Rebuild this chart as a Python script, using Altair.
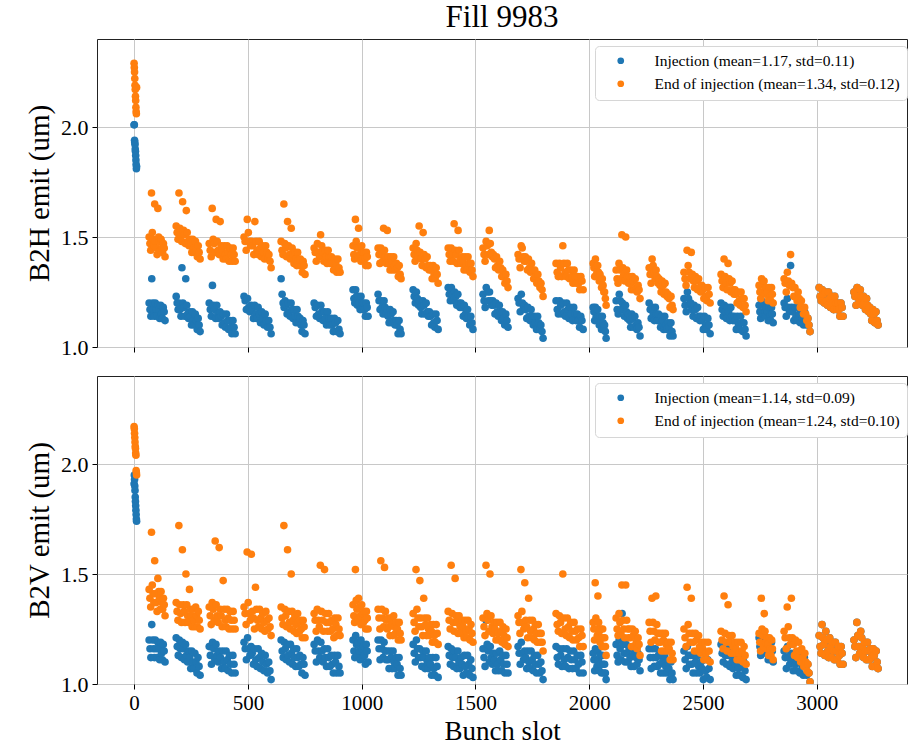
import altair as alt
import numpy as np
import pandas as pd

BLUE = "#1f77b4"
ORANGE = "#ff7f0e"
FONT = "Times New Roman, Liberation Serif, DejaVu Serif, serif"

X_TICKS = [0, 500, 1000, 1500, 2000, 2500, 3000]
Y_TICKS = [1.0, 1.5, 2.0]

# first short batch (bunch slots 0..11)
PILOT_SLOTS = list(range(12))
# trains: first and last bunch slot of each train
TRAIN_START = [66, 185, 330, 483, 646, 791, 962, 1072, 1226, 1380, 1533,
               1687, 1854, 2017, 2118, 2263, 2416, 2579, 2746, 2856, 3010, 3163]
TRAIN_END = [136, 290, 444, 602, 751, 905, 1028, 1173, 1336, 1489, 1643,
             1797, 1973, 2074, 2223, 2368, 2531, 2689, 2808, 2970, 3115, 3269]

# ---- B2H (values in hundredths of um, bunch by bunch along each train) ----
H_PILOT_INJ = [201, 201, 194, 193, 192, 190, 189, 187, 185, 183, 181, 182]
H_PILOT_END = [229, 227, 225, 222, 219, 217, 214, 212, 209, 207, 206, 218]
H_END = [
    [150,147,144, 170,152,149,146, 165,148,145,142, 163,150,148,144, 149,145,143, 147,145,141],
    [155,152,149, 170,154,151,148, 166,153,151,147, 162,152,148,146, 149,147,143, 149,145,143, 148,145,141, 146,143,140],
    [147,144,141, 163,149,147,143, 158,148,144,142, 157,146,144,140, 146,142,140, 146,143,139, 145,142,139, 145,142,139],
    [150,148,144, 158,152,148,146, 148,146,142, 157,148,144,142, 148,145,141, 146,143,140, 146,143,140, 142,139,136],
    [148,144,142, 165,147,145,141, 157,146,142,140, 154,145,142,138, 143,140,137, 143,140,137, 140,137,134, 139,137,133],
    [145,143,139, 147,143,141, 151,146,143,139, 144,141,138, 144,141,138, 141,138,135, 140,138,134, 140,136,134],
    [146,142,140, 158,148,145,141, 154,145,142,139, 146,143,140, 143,140,137, 143,141,137],
    [145,142,138, 145,142,139, 154,144,141,138, 153,141,138,135, 141,139,135, 141,137,135, 138,136,132, 137,133,131],
    [145,142,139, 147,144,141, 155,143,140,137, 152,142,140,136, 141,137,135, 137,135,131, 137,133,131, 136,133,129],
    [145,142,139, 145,142,139, 156,144,142,138, 153,144,140,138, 141,139,135, 141,137,135, 141,138,134, 138,135,132],
    [145,142,139, 148,146,142, 153,147,143,141, 142,140,136, 141,137,135, 139,136,132, 135,132,129, 133,130,127],
    [142,140,136, 146,145,141,139, 141,139,135, 140,136,134, 138,135,131, 135,132,129, 133,130,127, 129,126,123],
    [138,134,132, 138,136,132, 146,138,134,132, 138,135,131, 135,132,129, 135,132,129, 132,129,126, 132,130,126],
    [138,136,132, 140,136,134, 137,134,130, 133,130,127, 131,128,125, 125,122,119],
    [135,131,129, 138,135,131, 151,136,133,130, 150,135,132,129, 132,129,126, 132,130,126, 131,127,125, 128,126,122],
    [136,133,129, 140,137,134,131, 135,132,129, 131,128,125, 130,128,124, 129,125,123, 124,122,118, 123,119,117],
    [134,131,128, 144,137,134,131, 143,133,130,127, 132,130,126, 131,127,125, 128,126,122, 127,123,121, 127,124,120],
    [133,130,127, 140,132,129,126, 138,131,129,125, 130,126,124, 126,124,120, 125,121,119, 125,122,118, 122,119,116],
    [128,125,122, 131,129,125, 130,126,124, 127,125,121, 127,123,121, 127,124,120],
    [131,129,125, 134,130,128, 142,129,127,123, 127,123,121, 125,122,118, 121,118,115, 118,115,112, 113,110,107],
    [127,123,121, 126,124,120, 125,121,119, 125,122,118, 123,120,117, 123,120,117, 120,117,114, 120,118,114],
    [125,123,119, 127,123,121, 126,123,119, 123,120,117, 122,119,116, 118,115,112, 117,115,111, 116,112,110],
]
H_INJ = [
    [120,117,114, 131,120,117,114, 120,117,114, 119,117,113, 119,115,113, 118,116,112],
    [123,120,117, 120,117,114, 136,120,118,114, 131,119,115,113, 116,114,110, 116,112,110, 115,112,108, 113,110,107],
    [120,117,114, 128,119,117,113, 119,115,113, 116,114,110, 115,111,109, 115,112,108, 112,109,106, 112,109,106],
    [123,121,117, 122,118,116, 119,117,113, 119,115,113, 118,115,111, 116,113,110, 115,112,109, 112,109,106],
    [131,124,120,118, 121,119,115, 120,116,114, 120,117,113, 117,114,111, 117,114,111, 113,110,107, 112,110,106],
    [120,118,114, 119,115,113, 119,116,112, 116,113,110, 116,113,110, 113,110,107, 113,111,107, 112,108,106],
    [126,122,120, 126,123,119, 123,120,117, 123,120,117, 120,117,114, 120,118,114],
    [124,121,117, 121,118,115, 121,118,115, 117,114,111, 117,115,111, 116,112,110, 112,110,106, 112,108,106],
    [126,123,120, 125,122,119, 121,118,115, 121,119,115, 120,116,114, 116,114,110, 115,111,109, 115,112,108],
    [127,124,121, 127,124,121, 125,123,119, 124,120,118, 120,118,114, 119,115,113, 117,114,110, 114,111,108],
    [124,121,118, 127,125,121, 125,121,119, 121,119,115, 120,116,114, 119,116,112, 116,113,110, 115,112,109],
    [122,120,116, 124,120,118, 119,117,113, 118,114,112, 117,114,110, 114,111,108, 114,111,108, 110,107,104],
    [121,117,115, 121,119,115, 120,116,114, 120,117,113, 118,115,112, 118,115,112, 115,112,109, 114,112,108],
    [118,116,112, 118,114,112, 117,114,110, 114,111,108, 114,111,108, 110,107,104],
    [121,117,115, 124,121,117, 120,117,114, 119,116,113, 115,112,109, 115,113,109, 114,110,108, 111,109,105],
    [120,117,113, 118,115,112, 118,115,112, 115,112,109, 114,112,108, 114,110,108, 111,109,105, 111,107,105],
    [122,119,116, 125,122,119, 120,117,114, 119,117,113, 118,114,112, 114,112,108, 114,110,108, 113,110,106],
    [120,117,114, 119,116,113, 118,116,112, 118,114,112, 114,112,108, 114,110,108, 114,111,107, 111,108,105],
    [119,116,113, 121,119,115, 120,116,114, 118,116,112, 118,114,112, 118,115,111],
    [120,118,114, 122,118,116, 137,118,116,112, 118,114,112, 118,115,111, 116,113,110, 116,113,110, 113,110,107],
    # last two trains: injection readings coincide with end-of-injection readings
    [127,123,121, 126,124,120, 125,121,119, 125,122,118, 123,120,117, 123,120,117, 120,117,114, 120,118,114],
    [125,123,119, 127,123,121, 126,123,119, 123,120,117, 122,119,116, 118,115,112, 117,115,111, 116,112,110],
]

# ---- B2V (values in hundredths of um) ----
V_PILOT_INJ = [191, 195, 193, 190, 188, 185, 183, 181, 179, 177, 175, 174]
V_PILOT_END = [217, 216, 214, 212, 210, 208, 207, 205, 204, 197, 196, 195]
V_END = [
    [143,139,135, 169,145,141,137, 156,141,137,133, 148,142,139,134, 142,137,134, 139,136,131],
    [137,133,129, 172,136,132,128, 161,136,133,128, 150,136,131,128, 143,134,131,126, 134,129,126, 135,131,126, 133,129,125],
    [135,131,127, 137,134,129, 165,136,131,128, 162,134,131,126, 147,134,129,126, 134,130,125, 133,129,125, 133,129,125],
    [135,132,127, 160,137,132,129, 159,133,130,125, 144,134,129,126, 134,130,125, 132,128,124, 133,129,125, 130,126,122],
    [135,130,127, 172,134,131,126, 161,133,128,125, 150,133,129,124, 131,127,123, 132,128,124, 129,125,121, 129,126,121],
    [132,129,124, 134,129,126, 154,133,129,124, 152,132,128,124, 132,128,124, 129,125,121, 130,127,122, 130,125,122],
    [136,131,128, 152,138,134,129, 139,135,131,127, 136,132,128, 133,129,125, 133,130,125],
    [134,130,125, 156,134,130,126, 153,133,129,125, 130,126,122, 130,127,122, 131,126,123, 128,125,120, 128,123,120],
    [132,128,124, 152,134,130,126, 147,130,126,122, 139,130,127,122, 130,125,122, 127,124,119, 127,122,119, 127,123,118],
    [133,129,125, 154,132,128,124, 148,131,128,123, 131,126,123, 129,126,121, 129,124,121, 129,125,120, 127,123,119],
    [130,126,122, 154,132,129,124, 150,131,126,123, 128,125,120, 128,123,120, 128,124,119, 126,122,118, 125,121,117],
    [131,128,123, 152,133,128,125, 146,129,126,121, 139,129,124,121, 129,125,120, 127,123,119, 127,123,119, 123,119,115],
    [132,127,124, 131,128,123, 150,130,125,122, 130,126,121, 128,124,120, 128,124,120, 125,121,117, 125,122,117],
    [128,125,120, 146,130,125,122, 140,128,124,119, 125,121,117, 125,121,117, 121,117,113],
    [130,125,122, 132,128,123, 145,129,125,121, 145,129,125,121, 125,121,117, 125,122,117, 124,119,116, 121,118,113],
    [128,124,119, 139,128,124,120, 140,127,123,119, 123,119,115, 123,120,115, 123,118,115, 119,116,111, 119,114,111],
    [125,121,117, 144,127,123,119, 139,123,119,115, 123,120,115, 122,117,114, 119,116,111, 119,114,111, 119,115,110],
    [124,120,116, 140,123,119,115, 136,122,119,114, 122,117,114, 119,116,111, 119,114,111, 119,115,110, 117,113,109],
    [123,119,115, 139,125,122,117, 132,124,119,116, 121,118,113, 121,116,113, 120,116,111],
    [124,121,116, 135,126,121,118, 139,121,118,113, 120,115,112, 119,115,110, 116,112,108, 114,110,106, 109,105,101],
    [122,117,114, 127,121,118,113, 124,120,115,112, 121,117,112, 119,115,111, 119,115,111, 117,113,109, 117,114,109],
    [120,117,112, 128,122,117,114, 124,121,117,112, 119,115,111, 119,115,111, 116,112,108, 116,113,108, 115,110,107],
]
V_INJ = [
    [120,116,112, 127,120,116,112, 120,116,112, 119,116,111, 119,114,111, 118,115,110],
    [121,117,113, 120,116,112, 119,116,111, 118,113,110, 115,112,107, 115,110,107, 114,110,105, 112,108,104],
    [117,113,109, 119,116,111, 118,113,110, 115,112,107, 115,110,107, 115,111,106, 113,109,105, 113,109,105],
    [119,116,111, 121,116,113, 117,114,109, 116,111,108, 116,112,107, 114,110,106, 113,109,105, 110,106,102],
    [120,115,112, 119,116,111, 118,113,110, 118,114,109, 116,112,108, 116,112,108, 113,109,105, 112,109,104],
    [118,115,110, 120,115,112, 119,115,110, 116,112,108, 116,112,108, 113,109,105, 113,110,105, 113,108,105],
    [120,115,112, 122,118,113, 119,115,111, 120,116,112, 117,113,109, 118,115,110],
    [120,116,111, 120,116,112, 119,115,111, 115,111,107, 115,112,107, 115,110,107, 112,109,104, 112,107,104],
    [118,114,110, 120,116,112, 116,112,108, 115,112,107, 115,110,107, 112,109,104, 112,107,104, 112,108,103],
    [117,113,109, 116,112,108, 115,112,107, 115,110,107, 112,109,104, 113,108,105, 113,109,104, 111,107,103],
    [116,112,108, 129,118,115,110, 117,112,109, 114,111,106, 114,109,106, 115,111,106, 113,109,105, 113,109,105],
    [117,114,109, 119,114,111, 115,112,107, 115,110,107, 115,111,106, 113,109,105, 113,109,105, 110,106,102],
    [117,112,109, 116,113,108, 116,111,108, 116,112,107, 115,111,107, 115,111,107, 113,109,105, 113,110,105],
    [114,111,106, 116,111,108, 115,111,106, 113,109,105, 113,109,105, 109,105,102],
    [118,113,110, 120,116,111, 132,118,114,110, 118,114,110, 116,112,108, 116,113,108, 117,112,109, 114,111,106],
    [116,112,107, 116,112,108, 116,112,108, 113,109,105, 113,110,105, 113,108,105, 110,107,102, 110,105,102],
    [115,111,107, 117,113,109, 113,109,105, 113,110,105, 113,108,105, 110,107,102, 111,106,103, 111,107,102],
    [118,114,110, 117,113,109, 116,113,108, 115,110,107, 112,109,104, 112,107,104, 112,108,103, 110,106,102],
    [121,117,113, 123,120,115, 122,117,114, 119,116,111, 119,114,111, 119,115,110],
    [115,112,107, 117,112,109, 114,111,106, 114,109,106, 114,110,105, 112,108,104, 112,108,104, 109,105,101],
    # last two trains: injection readings coincide with end-of-injection readings
    [122,117,114, 127,121,118,113, 124,120,115,112, 121,117,112, 119,115,111, 119,115,111, 117,113,109, 117,114,109],
    [120,117,112, 128,122,117,114, 124,121,117,112, 119,115,111, 119,115,111, 116,112,108, 116,113,108, 115,110,107],
]

H_LABELS = ["Injection (mean=1.17, std=0.11)", "End of injection (mean=1.34, std=0.12)"]
V_LABELS = ["Injection (mean=1.14, std=0.09)", "End of injection (mean=1.24, std=0.10)"]


def series_rows(pilot, trains, label):
    out = []
    for s, v in zip(PILOT_SLOTS, pilot):
        out.append({"slot": s, "emit": v / 100.0, "series": label})
    for start, end, vals in zip(TRAIN_START, TRAIN_END, trains):
        slots = np.linspace(start, end, len(vals))
        for s, v in zip(slots, vals):
            out.append({"slot": float(s), "emit": v / 100.0, "series": label})
    return out


def panel(pinj, pend, inj, end, labels, ytitle, bottom):
    df = pd.DataFrame(series_rows(pinj, inj, labels[0]) + series_rows(pend, end, labels[1]))
    if bottom:
        xaxis = alt.Axis(values=X_TICKS, format="d", title="Bunch slot", labelFontSize=21,
                         titleFontSize=27, titlePadding=5, labelPadding=3, grid=True)
    else:
        xaxis = alt.Axis(values=X_TICKS, labels=False, title=None, grid=True)
    ch = alt.Chart(df).mark_circle(size=58, opacity=1, clip=True).encode(
        x=alt.X("slot:Q", scale=alt.Scale(domain=[-163, 3396], nice=False, zero=False), axis=xaxis),
        y=alt.Y("emit:Q", scale=alt.Scale(domain=[1.0, 2.4], nice=False, zero=False),
                axis=alt.Axis(values=Y_TICKS, format=".1f", title=ytitle, labelFontSize=22,
                              titleFontSize=29, titlePadding=6, labelPadding=4)),
        color=alt.Color("series:N", scale=alt.Scale(domain=labels, range=[BLUE, ORANGE]),
                        legend=alt.Legend(title=None, orient="none", legendX=498, legendY=7,
                                          fillColor="white", strokeColor="#d6d6d6", cornerRadius=4,
                                          padding=7, labelFont=FONT, labelFontSize=15.5,
                                          symbolType="circle", symbolSize=45, symbolOffset=11,
                                          labelOffset=26, rowPadding=6, labelLimit=400)),
    ).properties(width=810, height=308)
    return ch


top = panel(H_PILOT_INJ, H_PILOT_END, H_INJ, H_END, H_LABELS, "B2H emit (um)", False).properties(
    title=alt.Title("Fill 9983", fontSize=31, font=FONT, fontWeight="normal", anchor="middle",
                    frame="group", offset=5, color="black")
)
bottom = panel(V_PILOT_INJ, V_PILOT_END, V_INJ, V_END, V_LABELS, "B2V emit (um)", True)

chart = alt.vconcat(top, bottom, spacing=16).resolve_scale(color="independent").resolve_legend(
    color="independent"
).properties(
    padding={"left": 25, "top": 1, "right": 0, "bottom": 0}, background="white"
).configure_view(
    stroke="#222222", strokeWidth=1
).configure_axis(
    labelFont=FONT, titleFont=FONT, labelColor="black", titleColor="black",
    titleFontWeight="normal", domain=False, tickColor="black", tickSize=5,
    gridColor="#c8c8c8", gridWidth=1
)

chart.save("out.html", embed_options={"renderer": "svg", "actions": False})
